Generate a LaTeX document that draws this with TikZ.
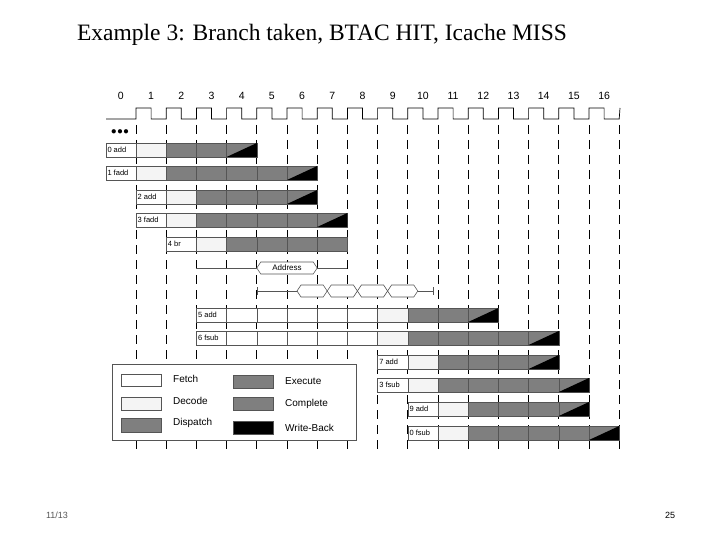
\documentclass[tikz,border=0pt]{standalone}
\usepackage{fontspec}
\setmainfont{Liberation Serif}
\newfontfamily\lsans{Liberation Sans}
\definecolor{dk}{HTML}{7F7F7F}
\definecolor{lt}{HTML}{F4F4F4}
\definecolor{bd}{HTML}{555555}
\begin{document}
\begin{tikzpicture}[x=1pt,y=-1pt,
  cell/.style={draw=bd,line width=0.6pt},
  lbl/.style={font=\lsans\fontsize{7.5}{8}\selectfont,anchor=west,inner sep=1.5pt},
  num/.style={font=\lsans\fontsize{10.5}{12}\selectfont}]
\useasboundingbox (0,0) rectangle (720,540);
\def\bx#1{\fpeval{105.8+30.2*(#1)}}
% title
\node[font=\fontsize{23.5}{26}\selectfont] (title) at (322,35) {Example 3: Branch taken, BTAC HIT, Icache MISS};
\node[font=\lsans\fontsize{9}{10}\selectfont,text=bd] (date) at (57,515) {11/13};
\node[font=\lsans\fontsize{9}{10}\selectfont] (page) at (670,515) {25};
% cycle numbers
\foreach \c in {0,...,16}{\node[num] (n\c) at ({\bx{\c}+15.1},96) {\c};}
% clock
\draw[line width=0.7pt] (106,119) -- (\bx{1},119)
  \foreach \c in {1,...,16}{ -- (\bx{\c},108) -- ({\bx{\c}+15.1},108) -- ({\bx{\c}+15.1},119) -- ({\bx{\c+1}},119)} -- (620,108);
% dashed lines
\foreach \c in {1,...,17}{\draw[line width=1pt,dash pattern=on 9pt off 6pt] (\bx{\c},125) -- (\bx{\c},450);}
\node[font=\bfseries\fontsize{11}{11}\selectfont] (dots) at (120,132) {$\bullet\!\bullet\!\bullet$};
% row macro: y, label start, label, #white, #gray, tri(1/0)
\newcommand\prow[6]{%
  \pgfmathsetmacro\ya{#1-7}\pgfmathsetmacro\yb{#1+7}%
  \pgfmathtruncatemacro\s{#2}%
  \draw[cell,fill=white] (\bx{\s},\ya) rectangle (\bx{\s+1},\yb);
  \node[lbl] at (\bx{\s},#1) {#3};
  \pgfmathtruncatemacro\w{#2+1}%
  \ifnum#4>0 \foreach \i in {1,...,#4}{\draw[cell,fill=white] (\bx{\w+\i-1},\ya) rectangle (\bx{\w+\i},\yb);}\fi
  \pgfmathtruncatemacro\d{#2+1+#4}%
  \draw[cell,fill=lt] (\bx{\d},\ya) rectangle (\bx{\d+1},\yb);
  \foreach \i in {1,...,#5}{\draw[cell,fill=dk] (\bx{\d+\i},\ya) rectangle (\bx{\d+\i+1},\yb);}
  \ifnum#6=1
    \pgfmathtruncatemacro\t{#2+2+#4+#5}%
    \draw[cell,fill=dk] (\bx{\t},\ya) rectangle (\bx{\t+1},\yb);
    \fill[black] (\bx{\t},\yb) -- (\bx{\t+1},\ya) -- (\bx{\t+1},\yb) -- cycle;
  \fi}
\prow{150}{0}{0 add}{0}{2}{1}
\prow{173}{0}{1 fadd}{0}{4}{1}
\prow{197}{1}{2 add}{0}{3}{1}
\prow{220}{1}{3 fadd}{0}{4}{1}
\prow{244}{2}{4 br}{0}{4}{0}
\prow{315}{3}{5 add}{5}{2}{1}
\prow{338}{3}{6 fsub}{5}{4}{1}
\prow{362}{9}{7 add}{0}{3}{1}
\prow{385}{9}{3 fsub}{0}{4}{1}
\prow{409}{10}{9 add}{0}{3}{1}
\prow{433}{10}{0 fsub}{0}{4}{1}
% address bus
\draw[bd,line width=0.6pt] (\bx{3},268) -- (\bx{5},268);
\draw[bd,line width=0.6pt] (\bx{7},268) -- (\bx{8},268);
\draw[bd,line width=0.6pt,fill=white] (\bx{5},268) -- ++(4,-6) -- ({\bx{7}-4},262) -- (\bx{7},268) -- ({\bx{7}-4},274) -- ({\bx{5}+4},274) -- cycle;
\node[font=\lsans\fontsize{8}{9}\selectfont] (addr) at ({\bx{6}},268) {Address};
\draw[bd,line width=0.6pt] (257,291) -- (433,291);
\draw[bd,line width=0.6pt] (257,287) -- (257,295);
\draw[bd,line width=0.6pt] (433,287) -- (433,295);
\foreach \i in {0,...,3}{\draw[bd,line width=0.6pt,fill=white] ({297+30.2*\i},291) -- ++(4,-6) -- ({297+30.2*\i+26.2},285) -- ({297+30.2*(\i+1)},291) -- ({297+30.2*\i+26.2},297) -- ({297+30.2*\i+4},297) -- cycle;}
% legend
\draw[bd,line width=0.8pt,fill=white] (112,364) rectangle (356,440);
\draw[cell,fill=white] (121,374) rectangle (161,386);
\draw[cell,fill=lt] (121,397) rectangle (161,410);
\draw[cell,fill=dk] (121,418) rectangle (161,432);
\draw[cell,fill=dk] (233,375) rectangle (273,388);
\draw[cell,fill=dk] (233,397) rectangle (273,410);
\draw[cell,fill=black] (233,421) rectangle (273,434);
\tikzset{leg/.style={font=\lsans\fontsize{10}{11}\selectfont,anchor=west,inner sep=0pt}}
\node[leg] (lf) at (173,379) {Fetch};
\node[leg] (ld) at (173,401) {Decode};
\node[leg] (lp) at (173,423) {Dispatch};
\node[leg] (le) at (285,381) {Execute};
\node[leg] (lc) at (285,404) {Complete};
\node[leg] (lw) at (285,428) {Write-Back};
\end{tikzpicture}
\end{document}
